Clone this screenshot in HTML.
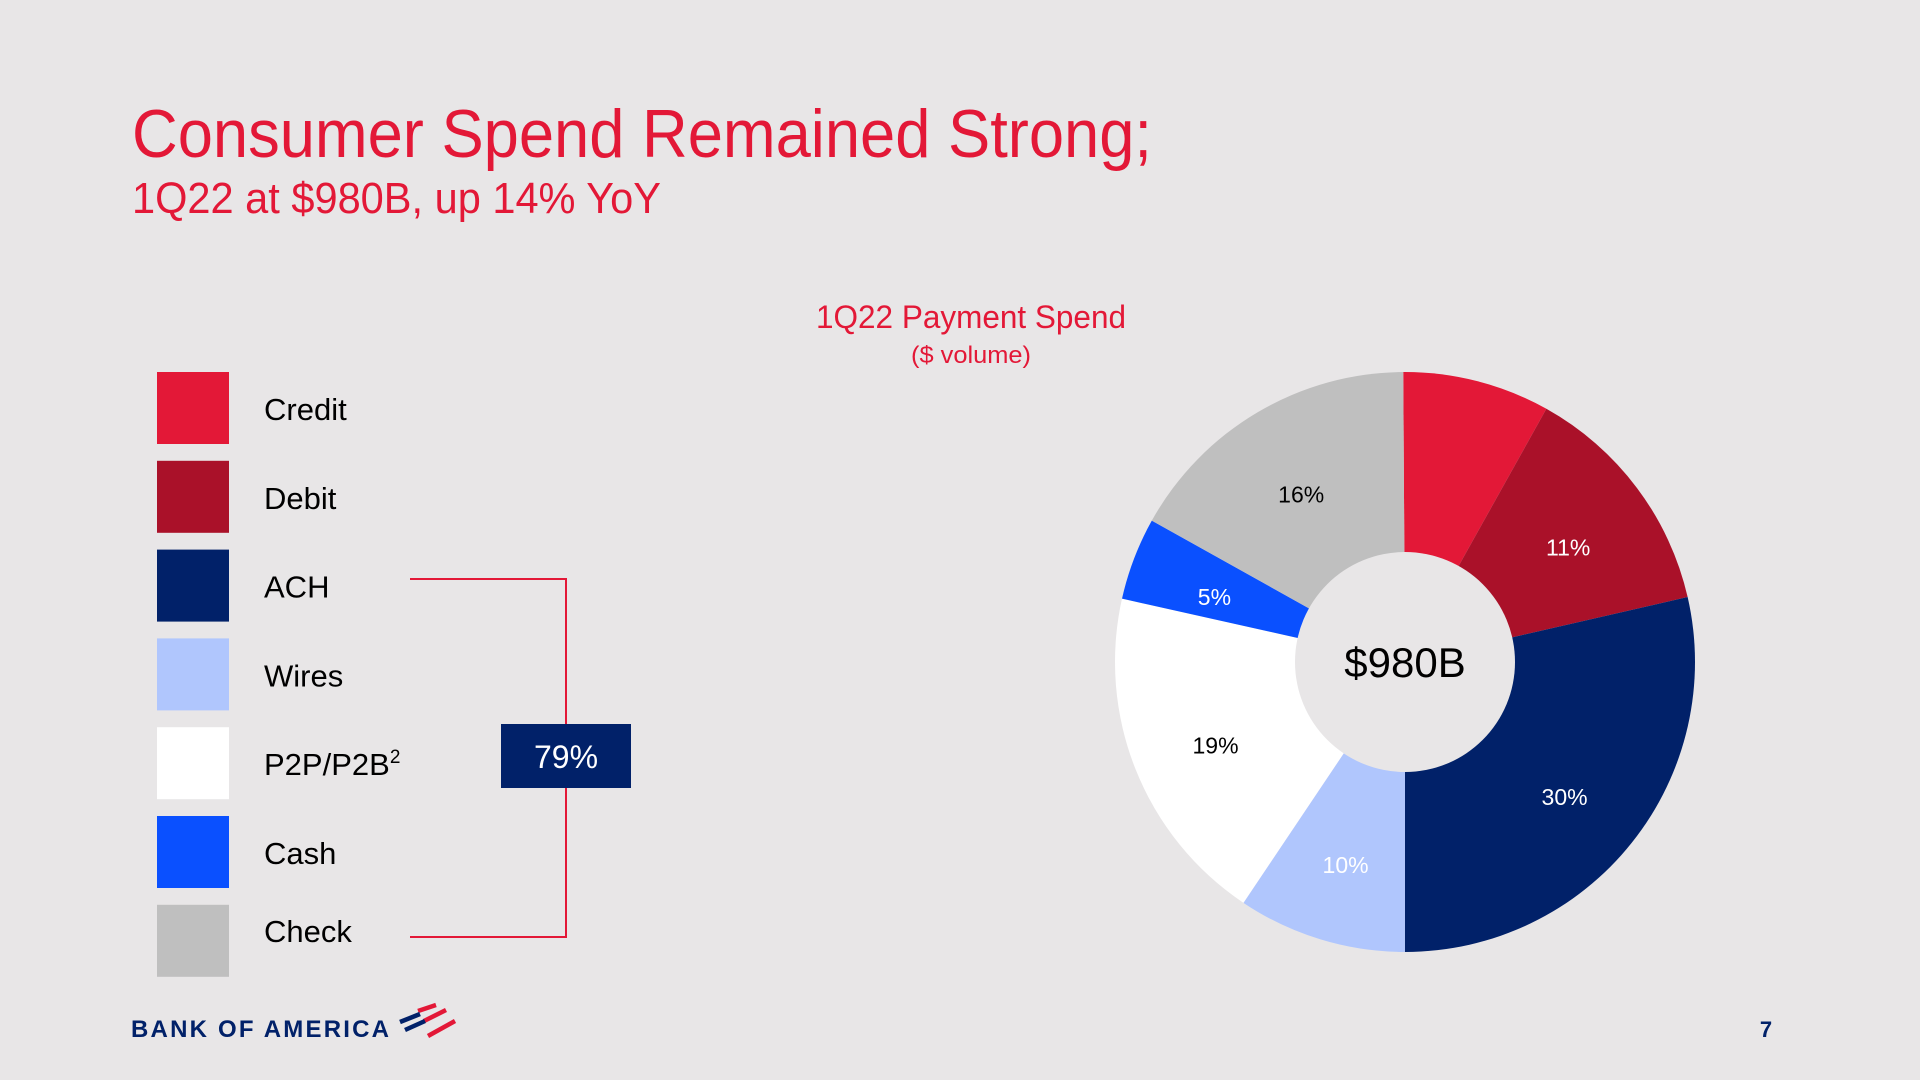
<!DOCTYPE html>
<html><head><meta charset="utf-8"><style>
html,body{margin:0;padding:0;background:#e8e6e7;}
svg{display:block;font-family:"Liberation Sans",sans-serif;}
</style></head><body>
<svg id="chart" width="1920" height="1080" viewBox="0 0 1920 1080">
<rect width="1920" height="1080" fill="#e8e6e7"/>
<text x="132" y="157" font-size="68" fill="#e31837" textLength="1020" lengthAdjust="spacingAndGlyphs">Consumer Spend Remained Strong;</text>
<text x="132" y="213" font-size="44" fill="#e31837" textLength="529" lengthAdjust="spacingAndGlyphs">1Q22 at $980B, up 14% YoY</text>
<text x="971" y="328" font-size="32" fill="#e31837" text-anchor="middle" textLength="310" lengthAdjust="spacingAndGlyphs">1Q22 Payment Spend</text>
<text x="971" y="363" font-size="24" fill="#e31837" text-anchor="middle" textLength="120" lengthAdjust="spacingAndGlyphs">($ volume)</text>
<g id="legend"></g>
<g>
<polyline points="410,579 566,579 566,937 410,937" fill="none" stroke="#e31837" stroke-width="2"/>
<rect x="501" y="724" width="130" height="64" fill="#012169"/>
<text x="566" y="768" font-size="32" fill="#fff" text-anchor="middle">79%</text>
</g>
<g id="pie"></g>
<g>
<text x="131" y="1037" font-size="24" font-weight="bold" fill="#012169" textLength="258" lengthAdjust="spacing">BANK OF AMERICA</text>
<g stroke-width="4.5" stroke-linecap="butt">
<line x1="418" y1="1011" x2="436" y2="1005" stroke="#e31837"/>
<line x1="400" y1="1022" x2="420" y2="1014" stroke="#012169"/>
<line x1="424" y1="1021" x2="446" y2="1010" stroke="#e31837"/>
<line x1="405" y1="1030" x2="425" y2="1021" stroke="#012169"/>
<line x1="428" y1="1036" x2="455" y2="1021" stroke="#e31837"/>
</g>
</g>
<text x="1766" y="1037" font-size="22" font-weight="bold" fill="#012169" text-anchor="middle">7</text>
</svg>
<script>
const categories = ["Credit","Debit","ACH","Wires","P2P/P2B","Cash","Check"];
const shares = [8.2,13.3,28.6,9.4,19.1,4.6,16.8];
const labels = ["","11%","30%","10%","19%","5%","16%"];
const colors = ["#e31837","#aa1129","#012169","#b0c6fd","#ffffff","#0a50ff","#bfbfbf"];
const labelColors = ["#fff","#fff","#fff","#fff","#000","#fff","#000"];
const NS="http://www.w3.org/2000/svg";
const cx=1405, cy=662, R=290, r=110;
const pie=document.getElementById('pie');
const total=shares.reduce((a,b)=>a+b,0);
function pt(a,rad){return [cx+rad*Math.sin(a), cy-rad*Math.cos(a)];}
let acc=0;
const startOff=-0.006;
shares.forEach((v,i)=>{
  const a0=acc/total*2*Math.PI + startOff; acc+=v; const a1=acc/total*2*Math.PI + startOff;
  const [x0,y0]=pt(a0,R),[x1,y1]=pt(a1,R);
  const large=(a1-a0)>Math.PI?1:0;
  const p=document.createElementNS(NS,'path');
  p.setAttribute('d',`M${cx},${cy} L${x0},${y0} A${R},${R} 0 ${large} 1 ${x1},${y1} Z`);
  p.setAttribute('fill',colors[i]);
  
  
  pie.appendChild(p);
  if(labels[i]){
    const am=(a0+a1)/2; const [lx,ly]=pt(am,(R+r)/2+4);
    const t=document.createElementNS(NS,'text');
    t.setAttribute('x',lx);t.setAttribute('y',ly+16);
    t.setAttribute('text-anchor','middle');t.setAttribute('font-size','23');
    t.setAttribute('fill',labelColors[i]);t.textContent=labels[i];
    
    
    pie.appendChild(t);
  }
});
const hole=document.createElementNS(NS,'circle');
hole.setAttribute('cx',cx);hole.setAttribute('cy',cy);hole.setAttribute('r',r);hole.setAttribute('fill','#e8e6e7');


pie.appendChild(hole);
const ct=document.createElementNS(NS,'text');
ct.setAttribute('x',cx);ct.setAttribute('y',cy+15);ct.setAttribute('text-anchor','middle');ct.setAttribute('font-size','42');ct.setAttribute('fill','#000');
ct.textContent='$980B';


pie.appendChild(ct);
const legendNames=["Credit","Debit","ACH","Wires","P2P/P2B","Cash","Check"];
const leg=document.getElementById('legend');
legendNames.forEach((n,i)=>{
  const y=372+i*88.8;
  const g=document.createElementNS(NS,'g');
  
  
  const s=document.createElementNS(NS,'rect');
  s.setAttribute('x',157);s.setAttribute('y',y);s.setAttribute('width',72);s.setAttribute('height',72);s.setAttribute('fill',colors[i]);
  
  
  const t=document.createElementNS(NS,'text');
  t.setAttribute('x',264);t.setAttribute('y',y+(i==6?37:48));t.setAttribute('font-size','31');t.setAttribute('fill','#000');
  t.textContent=n;
  if(n==="P2P/P2B"){const sup=document.createElementNS(NS,'tspan');sup.setAttribute('font-size','19');sup.setAttribute('dy','-12');sup.textContent='2';t.appendChild(sup);}
  
  
  g.appendChild(s);g.appendChild(t);leg.appendChild(g);
});
</script>
</body></html>
